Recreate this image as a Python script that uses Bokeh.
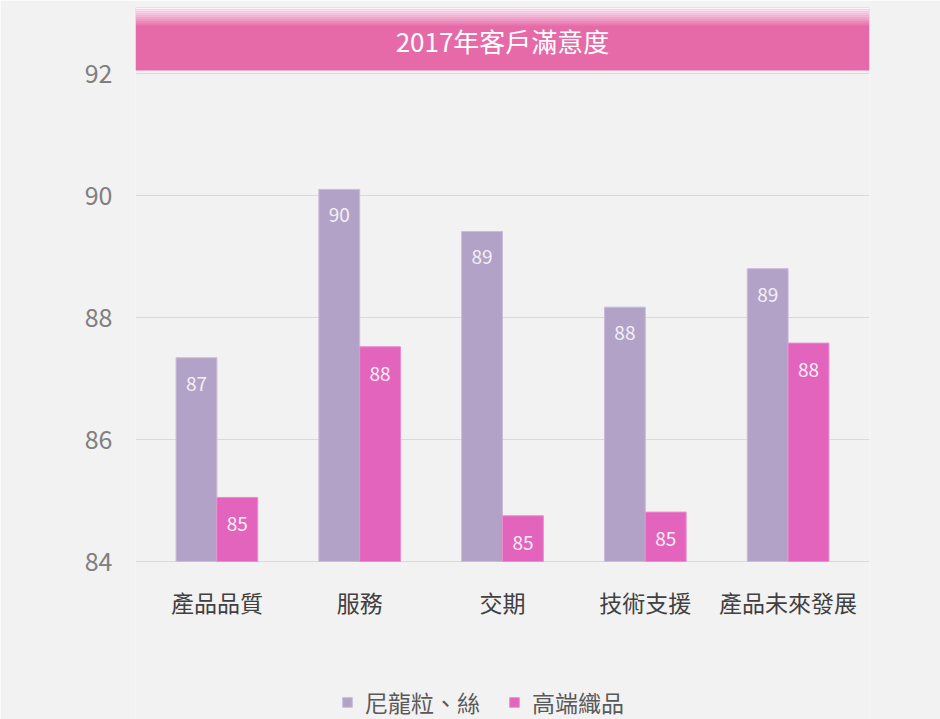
from bokeh.plotting import figure
from bokeh.models import (ColumnDataSource, FactorRange, Range1d, FixedTicker,
                          BoxAnnotation, Legend, LegendItem)
from bokeh.transform import dodge
from bokeh.core.properties import value
from bokeh.embed import file_html
from bokeh.resources import INLINE

# ---- data ----
categories = ["產品品質", "服務", "交期", "技術支援", "產品未來發展"]
series_names = ["尼龍粒、絲", "高端織品"]
nylon = [87.34, 90.10, 89.41, 88.17, 88.80]
textile = [85.05, 87.52, 84.75, 84.81, 87.58]
y_ticks = [84, 86, 88, 90, 92]
title_text = "2017年客戶滿意度"

# ---- style ----
FONT = "Noto Sans CJK TC"
PURPLE = "#B3A2C7"
PINK = "#E264BC"
BAND = "#E66AA8"
BG = "#F2F2F2"

W, H = 940, 719
LEFT, RIGHT, TOP = 135, 71, 7
BASE = 84                 # bar baseline / lowest tick
BASE_PX = 561             # pixel row of the baseline
PX_PER_UNIT = 61.0
Y_TOP = BASE + (BASE_PX - TOP) / PX_PER_UNIT
Y_BOT = BASE - (H - BASE_PX) / PX_PER_UNIT

src = ColumnDataSource(dict(
    cat=categories,
    nylon=nylon,
    textile=textile,
    nylon_lbl=[f"{v:.0f}" for v in nylon],
    textile_lbl=[f"{v:.0f}" for v in textile],
))

p = figure(x_range=FactorRange(*categories, range_padding=0.07,
                               range_padding_units="absolute"),
           y_range=Range1d(Y_BOT, Y_TOP),
           width=W, height=H, x_axis_location=None,
           output_backend="svg", toolbar_location=None,
           min_border_left=LEFT, min_border_right=RIGHT,
           min_border_top=TOP, min_border_bottom=0)

p.background_fill_color = BG
p.border_fill_color = BG
p.outline_line_color = None

# title band with top fade (underlay)
band_bottom = 92 + 3 / PX_PER_UNIT
p.add_layout(BoxAnnotation(bottom=band_bottom, fill_color=BAND, fill_alpha=1,
                           line_color=None, level="underlay"))
n_strips = 9
strip_px = 2
for i in range(n_strips):
    top = Y_TOP - i * strip_px / PX_PER_UNIT
    bot = Y_TOP - (i + 1) * strip_px / PX_PER_UNIT
    alpha = 0.92 * (1 - i / n_strips)
    p.add_layout(BoxAnnotation(top=top, bottom=bot, fill_color="white",
                               fill_alpha=alpha, line_color=None,
                               level="underlay"))

bw = 0.286
off = bw / 2
r1 = p.vbar(x=dodge("cat", -off, range=p.x_range), top="nylon", bottom=BASE,
            width=bw, source=src, fill_color=PURPLE, line_color="#C9BCD8",
            line_width=1)
r2 = p.vbar(x=dodge("cat", off, range=p.x_range), top="textile", bottom=BASE,
            width=bw, source=src, fill_color=PINK, line_color="#EA8CCD",
            line_width=1)

p.text(x=dodge("cat", -off, range=p.x_range), y="nylon", text="nylon_lbl",
       source=src, text_align="center", text_baseline="middle", y_offset=26,
       text_color="#F4F0F6", text_font=value(FONT), text_font_size="19px")
p.text(x=dodge("cat", off, range=p.x_range), y="textile", text="textile_lbl",
       source=src, text_align="center", text_baseline="middle", y_offset=27,
       text_color="#FBEFF7", text_font=value(FONT), text_font_size="19px")

# category labels under the bars (placed through the factor scale)
p.text(x="cat", y=BASE, text="cat", source=src, text_align="center",
       text_baseline="middle", y_offset=40, text_color="#404040",
       text_font=value(FONT), text_font_size="23px")

title_src = ColumnDataSource(dict(x=[categories[2]],
                                  y=[Y_TOP - 33 / PX_PER_UNIT],
                                  t=[title_text]))
p.text(x="x", y="y", text="t", source=title_src, text_align="center",
       text_baseline="middle", text_color="white", text_font=value(FONT),
       text_font_size="26px", level="overlay")

# y axis
ticker = FixedTicker(ticks=y_ticks)
p.yaxis.ticker = ticker
p.ygrid.ticker = ticker
p.yaxis.axis_line_color = None
p.yaxis.major_tick_line_color = None
p.yaxis.minor_tick_line_color = None
p.yaxis.major_tick_out = 0
p.yaxis.major_label_standoff = 23
p.yaxis.major_label_text_font = FONT
p.yaxis.major_label_text_font_size = "25px"
p.yaxis.major_label_text_color = "#808080"

p.xgrid.grid_line_color = None
p.ygrid.grid_line_color = "#D9D9D9"
p.ygrid.grid_line_width = 1

legend = Legend(items=[LegendItem(label=series_names[0], renderers=[r1]),
                       LegendItem(label=series_names[1], renderers=[r2])],
                orientation="horizontal", location=(206, 0),
                glyph_width=12, glyph_height=12, label_standoff=12,
                spacing=28, padding=0, margin=0,
                label_text_font=FONT, label_text_font_size="23px",
                label_text_color="#595959", border_line_color=None,
                background_fill_alpha=0)
p.add_layout(legend)

open("out.html", "w").write(file_html(p, INLINE))
